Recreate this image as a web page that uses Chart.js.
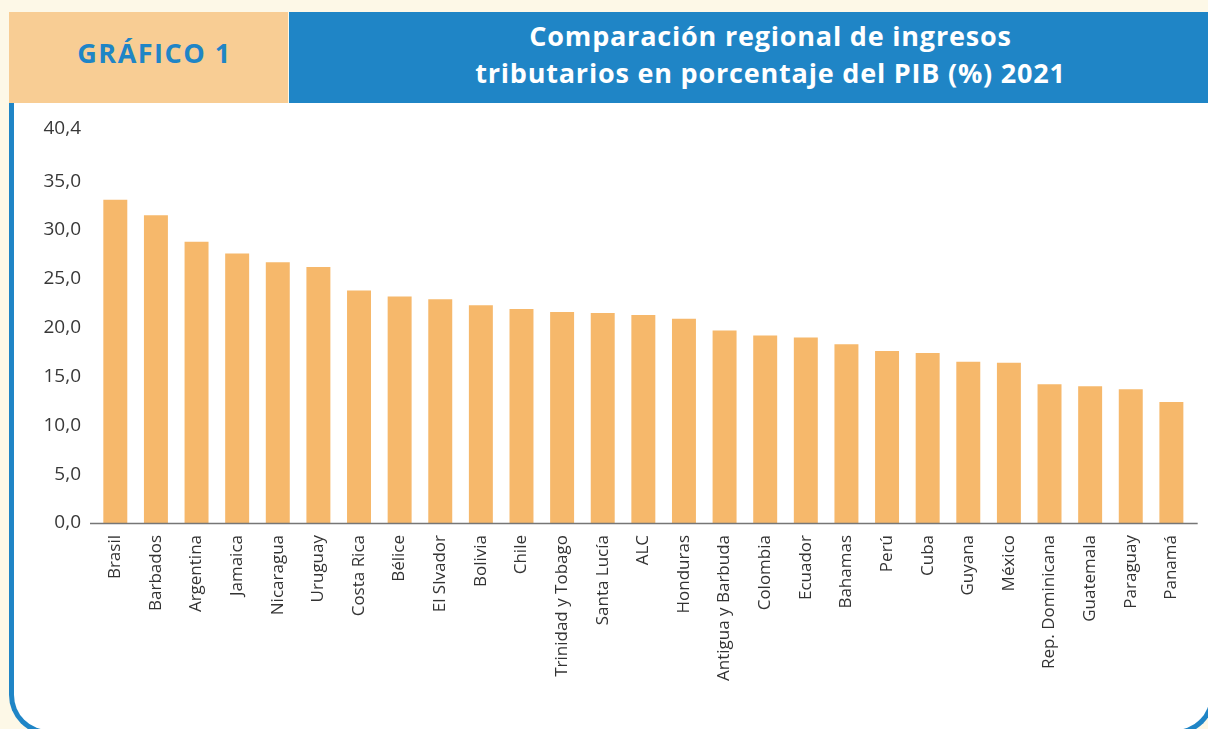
<!DOCTYPE html>
<html lang="es">
<head>
<meta charset="utf-8">
<title>Gráfico 1</title>
<script src="https://cdn.jsdelivr.net/npm/chart.js@4.4.1/dist/chart.umd.min.js"></script>
<style>
  html, body { margin: 0; padding: 0; }
  body {
    width: 1208px; height: 729px; overflow: hidden;
    background: #fdf8e7; position: relative;
    font-family: 'Open Sans', 'Lato', sans-serif;
  }
  .tag {
    position: absolute; left: 9px; top: 12px; width: 279px; height: 91px;
    background: #f8cd94; color: #1f85c6;
    display: flex; align-items: center; justify-content: center;
    font-weight: 700; font-size: 27px; letter-spacing: 1.5px;
    padding-bottom: 10px; padding-left: 12px; box-sizing: border-box;
  }
  .title {
    position: absolute; left: 289px; top: 12px; width: 919px; height: 91px;
    background: #1f85c6; color: #fff;
    display: flex; flex-direction: column; align-items: center; justify-content: center;
    font-weight: 700; font-size: 27px; line-height: 37px; letter-spacing: 0.8px;
    text-align: center;
    padding-left: 44px; padding-bottom: 8px; box-sizing: border-box;
  }
  .panel {
    position: absolute; left: 9px; top: 103px; width: 1206px; height: 632px;
    background: #fff; box-sizing: border-box;
    border: 5px solid #1f85c6; border-top: none;
    border-radius: 0 0 40px 40px;
  }
  #wrap { position: absolute; left: 14px; top: 103px; width: 1190px; height: 626px; }
</style>
</head>
<body>
<div class="tag">GRÁFICO 1</div>
<div class="title">
  <div>Comparación regional de ingresos</div>
  <div>tributarios en porcentaje del PIB (%) 2021</div>
</div>
<div class="panel"></div>
<div id="wrap"><canvas id="chart"></canvas></div>

<script>
// Ingresos tributarios en % del PIB, 2021
const countries = [
  'Brasil', 'Barbados', 'Argentina', 'Jamaica', 'Nicaragua', 'Uruguay',
  'Costa Rica', 'Bélice', 'El Slvador', 'Bolivia', 'Chile', 'Trinidad y Tobago',
  'Santa Lucía', 'ALC', 'Honduras', 'Antigua y Barbuda', 'Colombia', 'Ecuador',
  'Bahamas', 'Perú', 'Cuba', 'Guyana', 'México', 'Rep. Dominicana',
  'Guatemala', 'Paraguay', 'Panamá'
];
const taxRevenue = [
  33.1, 31.5, 28.8, 27.6, 26.7, 26.2,
  23.8, 23.2, 22.9, 22.3, 21.9, 21.6,
  21.5, 21.3, 20.9, 19.7, 19.2, 19.0,
  18.3, 17.6, 17.4, 16.5, 16.4, 14.2,
  14.0, 13.7, 12.4
];
const yTicks = [0, 5, 10, 15, 20, 25, 30, 35, 40.4];

const fmt = v => v.toFixed(1).replace('.', ',');

// baseline drawn a bit wider than the plot, like the original
const baseline = {
  id: 'baseline',
  afterDatasetsDraw(chart) {
    const { ctx, chartArea, scales: { y } } = chart;
    const py = Math.round(y.getPixelForValue(0)) + 0.5;
    ctx.save();
    ctx.strokeStyle = '#767676';
    ctx.lineWidth = 1.5;
    ctx.beginPath();
    ctx.moveTo(chartArea.left - 5, py);
    ctx.lineTo(chartArea.right + 6, py);
    ctx.stroke();
    ctx.restore();
  }
};

new Chart(document.getElementById('chart'), {
  type: 'bar',
  data: {
    labels: countries,
    datasets: [{
      data: taxRevenue,
      backgroundColor: '#f6b86b',
      borderWidth: 0,
      categoryPercentage: 1,
      barPercentage: 0.59
    }]
  },
  options: {
    responsive: true,
    maintainAspectRatio: false,
    animation: false,
    layout: { padding: { top: 24, right: 12, left: 0, bottom: 0 } },
    plugins: { legend: { display: false }, tooltip: { enabled: false } },
    scales: {
      x: {
        grid: { display: false, drawTicks: false },
        border: { display: false },
        ticks: {
          color: '#333',
          font: { family: 'Open Sans', size: 17 },
          minRotation: 90, maxRotation: 90,
          padding: 12,
          autoSkip: false
        },
        afterFit(scale) { scale.height = 206; }
      },
      y: {
        min: 0, max: 40.4,
        grid: { display: false, drawTicks: false },
        border: { display: false },
        afterBuildTicks(scale) { scale.ticks = yTicks.map(v => ({ value: v })); },
        ticks: {
          color: '#383838',
          font: { family: 'Open Sans', size: 19 },
          padding: 14,
          callback: v => fmt(v)
        },
        afterFit(scale) { scale.width = 81; }
      }
    }
  },
  plugins: [baseline]
});
</script>
</body>
</html>
